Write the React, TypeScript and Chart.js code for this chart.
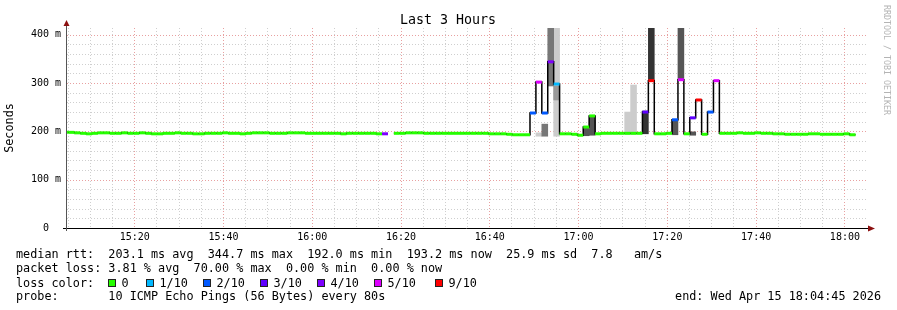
import React, { useEffect, useRef } from "react";
import { Chart, registerables } from "chart.js";

Chart.register(...registerables);

// ---- time axis (minutes since midnight) ----
const X_MIN = 904.75; // 15:04:45
const X_MAX = 1084.75; // 18:04:45
const STEP = 4 / 3; // 80 s per sample
const FIRST_SAMPLE = 903.72;
const Y_MAX = 414;

const xTickTimes = [920, 940, 960, 980, 1000, 1020, 1040, 1060, 1080];
const yTicks = [0, 100, 200, 300, 400];

// median rtt in ms, one value per 80 s sample (null = no data)
const medianMs: (number | null)[] = [
  198, 198, 197, 196, 195, 196, 197, 197, 196, 196,
  197, 196, 196, 197, 196, 195, 195, 196, 196, 197,
  196, 196, 195, 195, 196, 196, 196, 197, 196, 196,
  195, 196, 197, 197, 197, 196, 196, 196, 197, 197,
  197, 196, 196, 196, 196, 196, 196, 195, 196, 196,
  196, 196, 196, 195, 195, null, 196, 196, 197, 197,
  197, 196, 196, 196, 196, 196, 196, 196, 196, 196,
  196, 196, 195, 195, 195, 194, 193, 193, 193, 238,
  302, 238, 344, 298, 195, 195, 194, 192, 209, 232,
  195, 196, 196, 196, 196, 196, 196, 196, 240, 305,
  195, 195, 196, 224, 307, 195, 228, 265, 194, 240,
  305, 196, 196, 196, 197, 196, 196, 197, 196, 196,
  195, 195, 194, 194, 194, 194, 195, 195, 194, 194,
  194, 194, 195, 193,
];

// samples with packet loss (lost pings out of 10)
const lossIndex = [54, 79, 80, 81, 82, 83, 98, 99, 103, 104, 106, 107, 109, 110];
const lossPings = [4, 2, 5, 2, 4, 1, 3, 7, 2, 5, 3, 7, 2, 5];

const lossLabels = ["0", "1/10", "2/10", "3/10", "4/10", "5/10", "9/10"];
const lossColors = ["#26ff00", "#00b8ff", "#0059ff", "#5e00ff", "#7e00ff", "#dd00ff", "#ff0000"];

// smoke: [sample index, low ms, high ms]
const smokeLight: [number, number, number][] = [
  [80, 190, 197], [83, 190, 414], [95, 194, 240], [96, 194, 296],
];
const smokeMidLight: [number, number, number][] = [[83, 265, 294]];
const smokeGrey: [number, number, number][] = [[81, 190, 215], [82, 294, 414]];
const smokeMid: [number, number, number][] = [
  [88, 191, 209], [89, 192, 232], [103, 193, 224], [104, 307, 414], [106, 192, 199],
];
const smokeDark: [number, number, number][] = [[98, 195, 242], [99, 305, 414]];

const titleText = "Last 3 Hours";
const statLine1 = "median rtt:  203.1 ms avg  344.7 ms max  192.0 ms min  193.2 ms now  25.9 ms sd  7.8   am/s";
const statLine2 = "packet loss: 3.81 % avg  70.00 % max  0.00 % min  0.00 % now";
const lossLine = "loss color:";
const probeLine = "probe:       10 ICMP Echo Pings (56 Bytes) every 80s";
const endLine = "end: Wed Apr 15 18:04:45 2026";
const watermark = "RRDTOOL / TOBI OETIKER";

const MONO = "'DejaVu Sans Mono', monospace";

function fmtTime(v: number) {
  const h = Math.floor(v / 60);
  const m = Math.round(v - h * 60);
  return `${String(h).padStart(2, "0")}:${String(m).padStart(2, "0")}`;
}

export default function App() {
  const ref = useRef<HTMLCanvasElement>(null);

  useEffect(() => {
    const canvas = ref.current!;
    const start = (i: number) => FIRST_SAMPLE + i * STEP;

    const medianPts: { x: number; y: number | null }[] = [];
    medianMs.forEach((m, i) => {
      if (m == null) {
        medianPts.push({ x: start(i), y: null });
      } else {
        medianPts.push({ x: start(i), y: m }, { x: start(i) + STEP, y: m });
      }
    });

    const lossOf = (i: number) => {
      const k = lossIndex.indexOf(i);
      return k < 0 ? 0 : lossPings[k];
    };
    const colorPts: { x: number; y: number | null }[] = [];
    const segColors: string[] = [];
    medianMs.forEach((m, i) => {
      colorPts.push({ x: start(i), y: m }, { x: start(i) + STEP, y: m }, { x: start(i) + STEP, y: null });
      const c = lossOf(i);
      segColors.push(lossColors[c <= 5 ? c : 6]);
    });

    const smokeSet = (rows: [number, number, number][], color: string, order: number) => ({
      type: "bar" as const,
      data: rows.map(([i, lo, hi]) => ({ x: start(i) + STEP / 2, y: [lo, Math.min(hi, Y_MAX)] })),
      backgroundColor: color,
      borderWidth: 0,
      borderSkipped: false,
      grouped: false,
      barPercentage: 1,
      categoryPercentage: 1,
      order,
    });

    const gridPlugin = {
      id: "rrdGrid",
      beforeDatasetsDraw(chart: any) {
        const { ctx, chartArea: a, scales } = chart;
        const x = scales.x, y = scales.y;
        ctx.save();
        ctx.lineWidth = 1;
        ctx.setLineDash([1, 2]);
        for (let t = 905; t <= X_MAX; t += 5) {
          const px = Math.floor(x.getPixelForValue(t)) + 0.5;
          if (px < a.left + 1) continue;
          ctx.strokeStyle = t % 20 === 0 ? "#e8a0a0" : "#cfcfcf";
          ctx.beginPath();
          ctx.moveTo(px, a.top);
          ctx.lineTo(px, a.bottom);
          ctx.stroke();
        }
        for (let v = 20; v <= Y_MAX; v += 20) {
          const py = Math.round(y.getPixelForValue(v)) + 0.5;
          ctx.strokeStyle = v % 100 === 0 ? "#e8a0a0" : "#cfcfcf";
          ctx.beginPath();
          ctx.moveTo(a.left, py);
          ctx.lineTo(a.right, py);
          ctx.stroke();
        }
        ctx.restore();
      },
      afterDatasetsDraw(chart: any) {
        const { ctx, chartArea: a } = chart;
        ctx.save();
        ctx.lineWidth = 1;
        ctx.setLineDash([]);
        // x axis
        ctx.strokeStyle = "#000";
        ctx.beginPath();
        ctx.moveTo(a.left - 4, a.bottom + 0.5);
        ctx.lineTo(a.right + 4, a.bottom + 0.5);
        ctx.stroke();
        // y axis
        ctx.strokeStyle = "#555";
        ctx.beginPath();
        ctx.moveTo(a.left - 0.5, a.bottom + 3);
        ctx.lineTo(a.left - 0.5, a.top - 3);
        ctx.stroke();
        // arrows
        ctx.fillStyle = "#8c1010";
        ctx.beginPath();
        ctx.moveTo(a.left - 0.5, a.top - 8);
        ctx.lineTo(a.left - 3.5, a.top - 2);
        ctx.lineTo(a.left + 2.5, a.top - 2);
        ctx.closePath();
        ctx.fill();
        ctx.beginPath();
        ctx.moveTo(a.right + 9, a.bottom + 0.5);
        ctx.lineTo(a.right + 2, a.bottom - 2.5);
        ctx.lineTo(a.right + 2, a.bottom + 3.5);
        ctx.closePath();
        ctx.fill();
        ctx.restore();
      },
      afterDraw(chart: any) {
        const { ctx } = chart;
        ctx.save();
        ctx.fillStyle = "#000";
        ctx.textBaseline = "alphabetic";
        ctx.textAlign = "center";
        ctx.font = `13.3px ${MONO}`;
        ctx.fillText(titleText, 448, 24);

        ctx.textAlign = "left";
        ctx.font = `11.8px ${MONO}`;
        ctx.fillText(statLine1, 16, 258);
        ctx.fillText(statLine2, 16, 272.3);
        ctx.fillText(lossLine, 16, 286.6);
        ctx.fillText(probeLine, 16, 300);
        ctx.textAlign = "right";
        ctx.fillText(endLine, 881, 300);

        const sqX = [108, 146, 203, 260, 317, 374, 435];
        ctx.textAlign = "left";
        lossLabels.forEach((lab, k) => {
          ctx.fillStyle = lossColors[k];
          ctx.fillRect(sqX[k], 279, 8, 8);
          ctx.strokeStyle = "#222";
          ctx.lineWidth = 1;
          ctx.strokeRect(sqX[k] + 0.5, 279.5, 7, 7);
          ctx.fillStyle = "#000";
          ctx.fillText(lab, sqX[k] + 13.5, 286.6);
        });

        // watermark
        ctx.save();
        ctx.translate(886, 5);
        ctx.rotate(Math.PI / 2);
        ctx.font = `8.3px ${MONO}`;
        ctx.fillStyle = "#b4b4b4";
        ctx.textAlign = "left";
        ctx.textBaseline = "middle";
        ctx.fillText(watermark, 0, 0);
        ctx.restore();
        ctx.restore();
      },
    };

    const chart = new Chart(canvas, {
      type: "bar",
      data: {
        datasets: [
          smokeSet(smokeLight, "#cccccc", 10),
          smokeSet(smokeMidLight, "#999999", 9),
          smokeSet(smokeGrey, "#777777", 8),
          smokeSet(smokeMid, "#555555", 7),
          smokeSet(smokeDark, "#333333", 6),
          {
            type: "line",
            data: medianPts as any,
            borderColor: "#000",
            borderWidth: 1.5,
            pointRadius: 0,
            pointHitRadius: 0,
            spanGaps: false,
            tension: 0,
            order: 2,
          } as any,
          {
            type: "line",
            data: colorPts as any,
            borderColor: "#26ff00",
            borderWidth: 3,
            borderCapStyle: "butt",
            pointRadius: 0,
            pointHitRadius: 0,
            spanGaps: false,
            tension: 0,
            order: 1,
            segment: {
              borderColor: (ctx: any) => segColors[Math.floor(ctx.p0DataIndex / 3)],
            },
          } as any,
        ],
      },
      options: {
        responsive: false,
        animation: false,
        events: [],
        layout: { padding: { left: 0, top: 28, right: 31, bottom: 0 } },
        plugins: { legend: { display: false }, tooltip: { enabled: false }, title: { display: false } },
        scales: {
          x: {
            type: "linear",
            min: X_MIN,
            max: X_MAX,
            offset: false,
            grid: { display: false, drawTicks: false },
            border: { display: false },
            afterBuildTicks: (s: any) => {
              s.ticks = xTickTimes.map((v) => ({ value: v }));
            },
            afterFit: (s: any) => {
              s.height = 82;
            },
            ticks: {
              autoSkip: false,
              maxRotation: 0,
              padding: 3,
              color: "#000",
              font: { family: MONO, size: 10 },
              callback: (v: any) => fmtTime(Number(v)),
            },
          },
          y: {
            type: "linear",
            min: 0,
            max: Y_MAX,
            grid: { display: false, drawTicks: false },
            border: { display: false },
            afterBuildTicks: (s: any) => {
              s.ticks = yTicks.map((v) => ({ value: v }));
            },
            afterFit: (s: any) => {
              s.width = 67;
            },
            title: {
              display: true,
              text: "Seconds",
              color: "#000",
              font: { family: MONO, size: 11.8 },
              padding: { top: 3, bottom: 0 },
            },
            ticks: {
              autoSkip: false,
              padding: 6,
              color: "#000",
              font: { family: MONO, size: 10 },
              callback: (v: any) => (Number(v) === 0 ? "0  " : `${v} m`),
            },
          },
        },
      },
      plugins: [gridPlugin],
    } as any);

    return () => chart.destroy();
  }, []);

  return (
    <div style={{ position: "fixed", left: 0, top: 0, width: 897, height: 310, background: "#fff" }}>
      <canvas ref={ref} width={897} height={310} style={{ width: 897, height: 310, display: "block" }} />
    </div>
  );
}
